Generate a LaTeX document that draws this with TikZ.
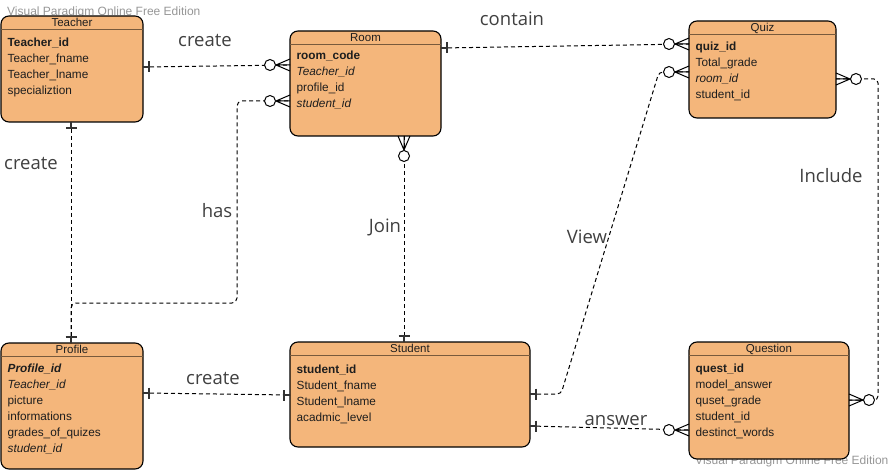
\documentclass[tikz,border=0pt]{standalone}
\usepackage{fontspec}
\setmainfont{Liberation Sans}
\newfontfamily\labf{Open Sans}
\usetikzlibrary{fit,calc}
\definecolor{entfill}{RGB}{244,182,123}
\definecolor{hdr}{RGB}{120,90,60}
\definecolor{txt}{RGB}{30,30,30}
\definecolor{wm}{RGB}{150,150,150}
\tikzset{
  entbox/.style={draw=black, line width=1.1pt, fill=entfill, rounded corners=8pt, inner sep=0pt},
  fieldtxt/.style={font=\fontsize{11.8}{13}\selectfont, text=txt, inner sep=0pt, text height=8.3pt, text depth=2.4pt, anchor=west},
  titletxt/.style={font=\fontsize{11.5}{13}\selectfont, text=txt, inner sep=0pt, text height=8.3pt, text depth=2.4pt},
  lbl/.style={font=\labf\fontsize{18.5}{20}\selectfont, text=txt!85!white, inner sep=0pt},
  conn/.style={line width=1pt, dash pattern=on 4pt off 3pt, rounded corners=5pt},
  wmark/.style={font=\fontsize{12}{14}\selectfont, text=wm, inner sep=0pt, anchor=west},
  crowO/.pic={\draw[solid, line width=1pt] (14,0)--(0,6) (14,0)--(0,-6) (14,0)--(0,0);
              \draw[solid, line width=1pt, fill=white] (20,0) circle (5.5pt);},
  onebar/.pic={\draw[solid, line width=1.2pt, black!80] (0,0)--(6,0) (6,-5.5)--(6,5.5);}
}
\newcommand\erent[8]{% name, x1,y1,x2,y2, title, first-field offset, fields
  \node[entbox, fit={(#2,#3)(#4,#5)}] (#1) {};
  \draw[hdr, line width=1.6pt] ($(#1.north west)+(0.6,14)$) -- ($(#1.north east)+(-0.6,14)$);
  \node[titletxt] (#1-title) at ($(#1.north)+(0,8.4)$) {#6};
  \foreach \t [count=\i] in {#8} {
    \node[fieldtxt] (#1-f\i) at ($(#1.north west)+(7,{#7-14.5+16*\i})$) {\t};
  }
}
\begin{document}
\begin{tikzpicture}[x=1pt,y=-1pt]
\useasboundingbox (0,0) rectangle (893,470);
% watermarks
\node[wmark] (wm1) at (7,12) {Visual Paradigm Online Free Edition};
\node[wmark] (wm2) at (695,461.5) {Visual Paradigm Online Free Edition};
% entities
\erent{teacher}{1}{16}{143}{122}{Teacher}{27}{\textbf{Teacher\_id},Teacher\_fname,Teacher\_lname,specializtion}
\erent{room}{290}{31}{441}{136}{Room}{25}{\textbf{room\_code},\textit{Teacher\_id},profile\_id,\textit{student\_id}}
\erent{quiz}{689}{21}{836}{118}{Quiz}{26}{\textbf{quiz\_id},Total\_grade,\textit{room\_id},student\_id}
\erent{profile}{1}{343}{143}{469}{Profile}{25.5}{\textbf{\textit{Profile\_id}},\textit{Teacher\_id},picture,informations,grades\_of\_quizes,\textit{student\_id}}
\erent{student}{290}{342}{530}{447}{Student}{28}{\textbf{student\_id},Student\_fname,Student\_lname,acadmic\_level}
\erent{question}{689}{342}{849}{459}{Question}{27}{\textbf{quest\_id},model\_answer,quset\_grade,student\_id,destinct\_words}
% connection points
\coordinate (tR) at (143,67);
\coordinate (rL1) at (290,65);
\coordinate (rL2) at (290,101);
\coordinate (tB) at (71,122);
\coordinate (pT) at (71,343);
\coordinate (rB) at (404,136);
\coordinate (sT) at (404,342);
\coordinate (rR) at (441,48);
\coordinate (qL1) at (689,44);
\coordinate (sR1) at (530,394);
\coordinate (qL2) at (689,72);
\coordinate (qR) at (836,79);
\coordinate (quR) at (849,400);
\coordinate (sR2) at (530,426);
\coordinate (quL) at (689,430);
\coordinate (pR) at (143,393);
\coordinate (sL) at (290,395);
% connectors
\draw[conn] (tR) -- (rL1);
\draw[conn] (pT) -- (71,303) -- (237,303) -- (237,101) -- (rL2);
\draw[conn] (tB) -- (pT);
\draw[conn] (rB) -- (sT);
\draw[conn] (rR) -- (qL1);
\draw[conn, rounded corners=4pt] (sR1) -- (561,394) -- (659,72) -- (qL2);
\draw[conn, rounded corners=4pt] (qR) -- (878,79) -- (878,400) -- (quR);
\draw[conn] (sR2) -- (quL);
\draw[conn] (pR) -- (sL);
% ends
\pic[rotate=0] at (tR) {onebar};
\pic[rotate=180] at (rL1) {crowO};
\pic[rotate=180] at (rL2) {crowO};
\pic[rotate=-90] at (tB) {onebar};
\pic[rotate=90] at (pT) {onebar};
\pic[rotate=-90] at (rB) {crowO};
\pic[rotate=90] at (sT) {onebar};
\pic[rotate=0] at (rR) {onebar};
\pic[rotate=180] at (qL1) {crowO};
\pic[rotate=0] at (sR1) {onebar};
\pic[rotate=180] at (qL2) {crowO};
\pic[rotate=0] at (qR) {crowO};
\pic[rotate=0] at (quR) {crowO};
\pic[rotate=0] at (sR2) {onebar};
\pic[rotate=180] at (quL) {crowO};
\pic[rotate=0] at (pR) {onebar};
\pic[rotate=180] at (sL) {onebar};
% labels
\node[lbl] (l1) at (205,40) {create};
\node[lbl] (l2) at (31,163) {create};
\node[lbl] (l3) at (217,211) {has};
\node[lbl] (l4) at (385,227) {Join};
\node[lbl] (l5) at (512,19) {contain};
\node[lbl] (l6) at (587,237) {View};
\node[lbl] (l7) at (831,176) {Include};
\node[lbl] (l8) at (616,421) {answer};
\node[lbl] (l9) at (213,378) {create};
\end{tikzpicture}
\end{document}
